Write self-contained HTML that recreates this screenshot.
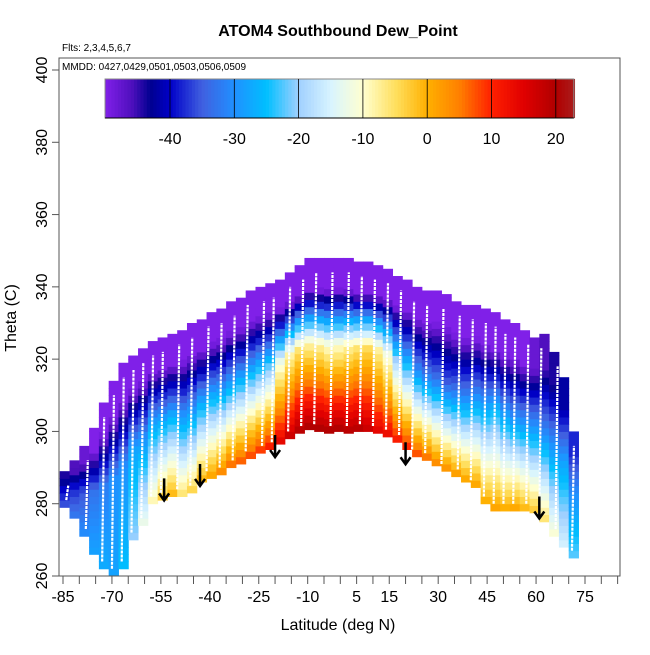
<!DOCTYPE html>
<html><head><meta charset="utf-8"><style>
body{margin:0;background:#fff;}
svg text{font-family:"Liberation Sans",sans-serif;}
</style></head><body>
<svg id="chart" width="650" height="650" xmlns="http://www.w3.org/2000/svg">
<rect width="650" height="650" fill="#fff"/>
<text x="338" y="36" text-anchor="middle" font-size="16" font-weight="bold">ATOM4 Southbound Dew_Point</text>
<text x="62" y="51" font-size="10">Flts: 2,3,4,5,6,7</text>
<g id="heat"></g>
<g id="traces"></g>
<g id="arrows"></g>
<rect x="59" y="58" width="561" height="518" fill="none" stroke="#555" stroke-width="1"/>
<text x="62" y="70" font-size="10">MMDD: 0427,0429,0501,0503,0506,0509</text>
<g id="cbar"></g>
<g id="axes"></g>
<text x="338" y="630" text-anchor="middle" font-size="16">Latitude (deg N)</text>
<text transform="translate(16,318) rotate(-90)" text-anchor="middle" font-size="16">Theta (C)</text>
</svg>
<script>
const lats=[-86,-83,-80,-77,-74,-71,-68,-65,-62,-59,-56,-53,-50,-47,-44,-41,-38,-35,-32,-29,-26,-23,-20,-17,-14,-11,-8,-5,-2,1,4,7,10,13,16,19,22,25,28,31,34,37,40,43,46,49,52,55,58,61,64,67,70];
const bottomTheta=[279,276,271,266,262,260,262,270,274,280,281,282,282,283,286,287,288,290,291,292.5,294,295,296.5,298,299.5,300.5,300,299.5,300,299.5,300,300,299.5,298.5,297,295,293,292,290.5,289,287.5,286,284.5,280,278,278,278,278,277.5,275,271,268,265];
const topTheta=[289,292,296,301,308,314,319,321,323,325,326,327,328,330,331,333,334,336,337,339,340,341,342,344,346,348,348,348,348,348,347,347,346,345,343,342,340,339,339,338,336,335,335,334,333,331,330,328,326,327,322,315,300];
const dewBottom=[-35,-32,-30,-28,-27,-28,-25,-20,-12,-8,-2,0,-5,-3,0,2,5,7,8,9,10,12,15,18,20,21,21,21,21,20,20,18,15,14,12,11,9,7,5,4,3,2,2,1,2,1,2,0,-2,-5,-10,-15,-22];
const dewMid=[-40,-38,-36,-33,-32,-30,-30,-28,-30,-28,-28,-27,-30,-30,-28,-27,-28,-28,-26,-25,-24,-22,-12,-8,-6,-8,-8,-10,-10,-8,-6,-5,-8,-12,-20,-25,-30,-32,-33,-35,-33,-32,-30,-28,-25,-28,-30,-30,-30,-32,-30,-28,-30];
const dewTop=[-44,-46,-48,-50,-50,-50,-50,-50,-50,-50,-50,-50,-50,-50,-50,-50,-50,-50,-50,-50,-50,-50,-50,-50,-50,-50,-50,-50,-50,-50,-50,-50,-50,-50,-50,-50,-50,-50,-50,-50,-50,-50,-50,-50,-50,-50,-50,-50,-48,-46,-44,-42,-38];
const traceLats=[-84,-78,-73,-70,-67,-64,-61,-58,-55,-50,-46,-41,-37,-33,-29,-24,-21,-16,-12,-8,-3,2,6,10,14,18,22,26,31,36,40,44,47,50,53,57,61,66,71];
const arrowLats=[-54,-43,-20,20,61];
const arrowTheta=[287,291,299,297,282];
const cbTicks=[-40,-30,-20,-10,0,10,20];
const xTickLabels=[-85,-70,-55,-40,-25,-10,5,15,30,45,60,75];
const yTicks=[260,280,300,320,340,360,380,400];

const NS='http://www.w3.org/2000/svg';
const X=l=>63+(l+85)*3.2625;
const Y=t=>576-(t-260)*3.6143;
function mk(tag,at,parent){const e=document.createElementNS(NS,tag);for(const k in at)e.setAttribute(k,at[k]);parent.appendChild(e);return e;}
const stops=[[-50,[128,32,232]],[-46,[80,16,190]],[-43,[0,0,144]],[-40,[0,0,200]],[-35,[64,96,224]],[-30,[32,144,255]],[-25,[0,191,255]],[-20,[160,208,255]],[-15,[216,244,255]],[-10,[255,255,208]],[-5,[255,224,96]],[0,[255,176,0]],[5,[255,128,0]],[10,[255,32,0]],[15,[224,0,0]],[20,[176,0,0]],[23,[170,30,30]]];
function col(v){if(v<=stops[0][0])return 'rgb('+stops[0][1]+')';for(let i=1;i<stops.length;i++){if(v<=stops[i][0]){const a=stops[i-1],b=stops[i],f=(v-a[0])/(b[0]-a[0]);return 'rgb('+a[1].map((c,j)=>Math.round(c+(b[1][j]-c)*f)).join(',')+')';}}return 'rgb('+stops[stops.length-1][1]+')';}

const heat=document.getElementById('heat');
lats.forEach((l,i)=>{
  const l2=l+3,b=bottomTheta[i],t=topTheta[i],m=b+(t-b)*0.5,tt=b+(t-b)*0.82;
  for(let th=b;th<t;th+=2){
    const c=th+1;
    let v;
    if(c<m) v=dewBottom[i]+(dewMid[i]-dewBottom[i])*(c-b)/(m-b);
    else if(c<tt) v=dewMid[i]+(dewTop[i]-dewMid[i])*(c-m)/(tt-m);
    else v=dewTop[i];
    const r=mk('rect',{x:X(l),y:Y(Math.min(th+2,t)),width:X(l2)-X(l)+0.5,height:Y(th)-Y(Math.min(th+2,t))+0.5,fill:col(v)},heat);
    
    
  }
});
function colIdx(l){let k=0;for(let i=0;i<lats.length;i++)if(lats[i]<=l)k=i;return k;}
const tr=document.getElementById('traces');
traceLats.forEach(l=>{
  const k=colIdx(l);
  const ln=mk('line',{x1:X(l),x2:X(l)+2,y1:Y(bottomTheta[k]+2),y2:Y(topTheta[k]-4),stroke:'#fff','stroke-width':2.2,'stroke-dasharray':'3 1'},tr);
  
  
});
const ar=document.getElementById('arrows');
arrowLats.forEach((l,i)=>{
  const x=X(l),y0=Y(arrowTheta[i]),y1=y0+22;
  const p=mk('path',{d:`M${x},${y0}L${x},${y1}M${x-5},${y1-7}L${x},${y1}L${x+5},${y1-7}`,stroke:'#000','stroke-width':2.5,fill:'none'},ar);
  
  
});
const cb=document.getElementById('cbar');
const CX=v=>170+(v+40)*6.43;
for(let v=-50.1;v<22.8;v+=0.5){
  const r=mk('rect',{x:CX(v),y:79,width:3.8,height:39,fill:col(v+0.25)},cb);
  
  
}
mk('rect',{x:CX(-50.1),y:79,width:CX(22.8)-CX(-50.1),height:39,fill:'none',stroke:'#888'},cb);
mk('line',{x1:CX(-50.1),x2:CX(22.8),y1:118,y2:118,stroke:'#000'},cb);
cbTicks.forEach(v=>{
  mk('line',{x1:CX(v),x2:CX(v),y1:79,y2:118,stroke:'#000','stroke-width':0.8},cb);
  const t=mk('text',{x:CX(v),y:144,'text-anchor':'middle','font-size':16},cb);t.textContent=v;
  
  
});
const ax=document.getElementById('axes');
for(let v=-85;v<=85;v+=5){mk('line',{x1:X(v),x2:X(v),y1:576,y2:584,stroke:'#555'},ax);}
xTickLabels.forEach(v=>{
  const t=mk('text',{x:X(v),y:602,'text-anchor':'middle','font-size':16},ax);t.textContent=v;
  
  
});
yTicks.forEach(v=>{
  mk('line',{x1:52,x2:59,y1:Y(v),y2:Y(v),stroke:'#555'},ax);
  const t=mk('text',{transform:`translate(47,${Y(v)}) rotate(-90)`,'text-anchor':'middle','font-size':16},ax);t.textContent=v;
  
  
});
</script>
</body></html>
